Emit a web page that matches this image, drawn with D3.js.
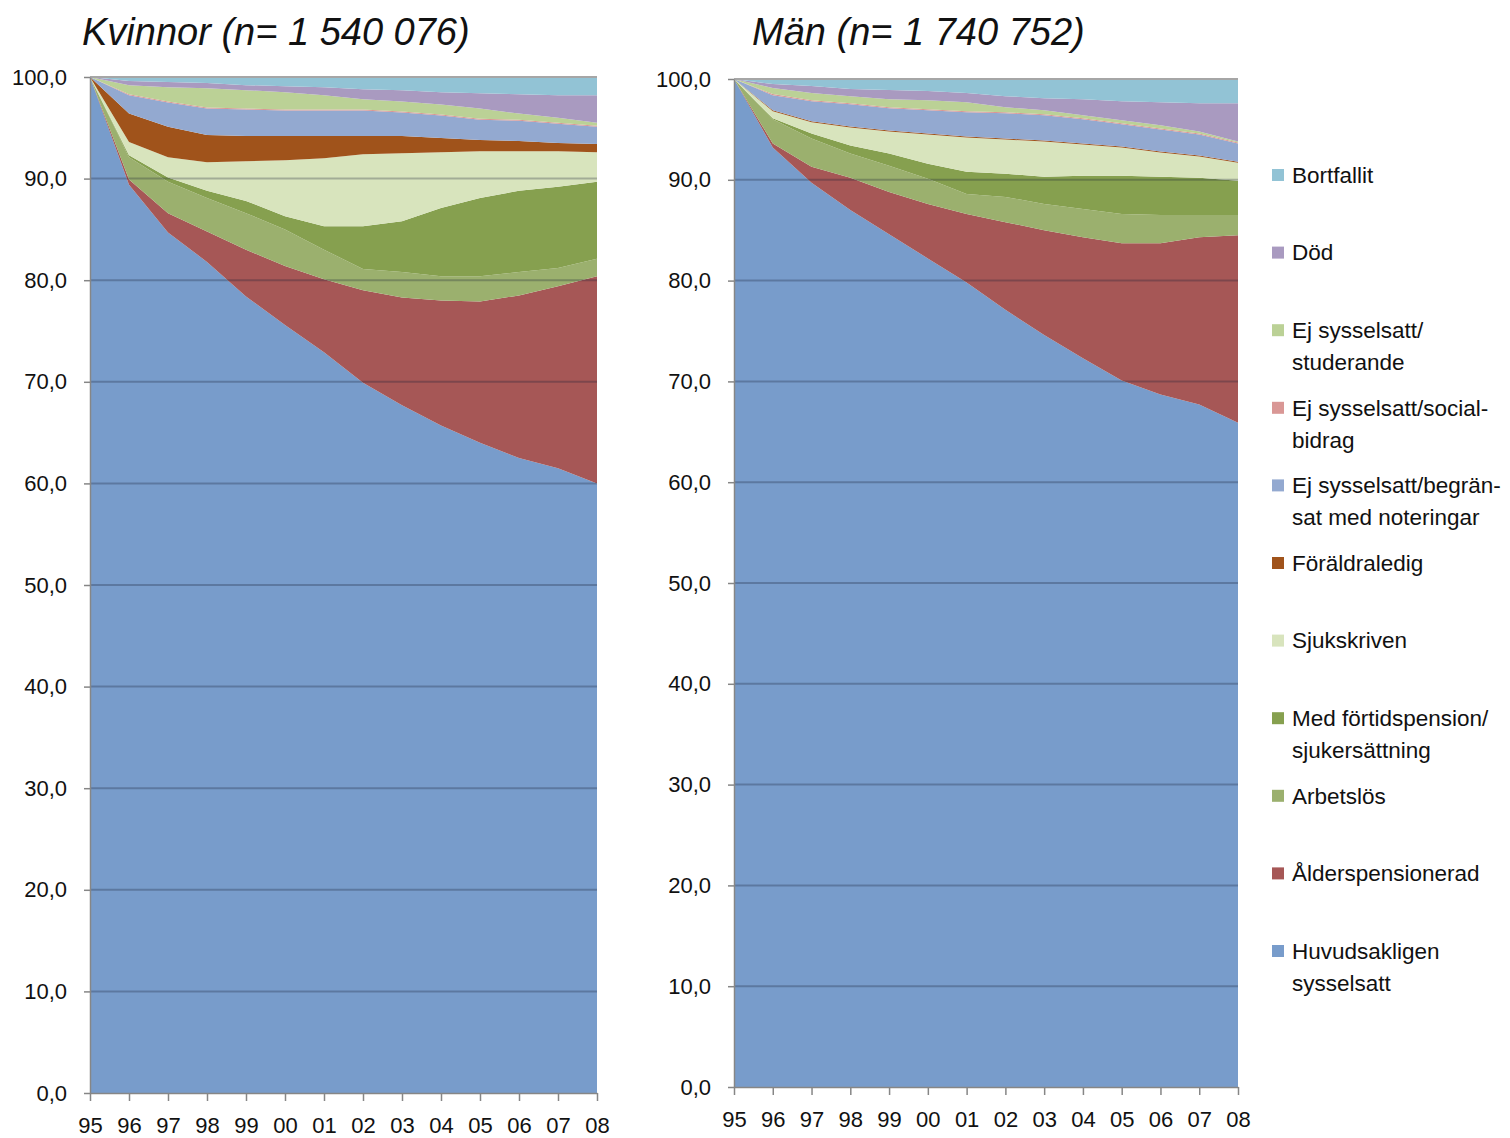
<!DOCTYPE html>
<html>
<head>
<meta charset="utf-8">
<script src="https://cdn.jsdelivr.net/npm/d3@7"></script>
<style>
  body { margin: 0; background: #fff; }
  svg { display: block; }
  text { font-family: "Liberation Sans", Arial, sans-serif; fill: #111; }
</style>
</head>
<body>
<svg id="chart" width="1510" height="1138"></svg>
<script>
// Year labels (1995–2008) and value axis ticks
const years = ["95","96","97","98","99","00","01","02","03","04","05","06","07","08"];
const yTicks = [0, 10, 20, 30, 40, 50, 60, 70, 80, 90, 100];

// Categories, in stacking order from the bottom up
const categories = [
  "Huvudsakligen sysselsatt",
  "Ålderspensionerad",
  "Arbetslös",
  "Med förtidspension/sjukersättning",
  "Sjukskriven",
  "Föräldraledig",
  "Ej sysselsatt/begränsat med noteringar",
  "Ej sysselsatt/socialbidrag",
  "Ej sysselsatt/studerande",
  "Död",
  "Bortfallit"
];
const legendLines = [
  ["Huvudsakligen", "sysselsatt"],
  ["Ålderspensionerad"],
  ["Arbetslös"],
  ["Med förtidspension/", "sjukersättning"],
  ["Sjukskriven"],
  ["Föräldraledig"],
  ["Ej sysselsatt/begrän-", "sat med noteringar"],
  ["Ej sysselsatt/social-", "bidrag"],
  ["Ej sysselsatt/", "studerande"],
  ["Död"],
  ["Bortfallit"]
];
const colors = ["#789ccb", "#a65756", "#9bb06e", "#86a04f", "#d8e4bd", "#a0531b",
                "#93a9d0", "#d99795", "#bbd196", "#a99ac0", "#92c3d5"];

// Kvinnor (n = 1 540 076), percent per year
const kvHuvud   = [100, 89.4, 84.7, 81.8, 78.4, 75.6, 72.9, 69.9, 67.7, 65.7, 64.0, 62.5, 61.5, 60.0];
const kvAlder   = [0, 0.5, 1.9, 3.0, 4.6, 5.8, 7.2, 9.1, 10.6, 12.3, 13.9, 16.0, 17.9, 20.4];
const kvArbets  = [0, 2.2, 3.1, 3.3, 3.6, 3.6, 2.9, 2.1, 2.5, 2.4, 2.5, 2.3, 1.8, 1.7];
const kvFortid  = [0, 0.2, 0.4, 0.7, 1.2, 1.3, 2.3, 4.2, 5.0, 6.7, 7.7, 8.0, 8.0, 7.6];
const kvSjuk    = [0, 1.3, 2.0, 2.8, 3.9, 5.5, 6.7, 7.1, 6.7, 5.5, 4.6, 3.9, 3.5, 2.9];
const kvForald  = [0, 2.8, 3.0, 2.7, 2.5, 2.4, 2.2, 1.8, 1.7, 1.4, 1.1, 1.0, 0.8, 0.8];
const kvBegr    = [0, 1.8, 2.4, 2.6, 2.6, 2.5, 2.5, 2.5, 2.3, 2.2, 2.0, 2.0, 1.9, 1.7];
const kvSocial  = [0, 0.1, 0.1, 0.1, 0.1, 0.1, 0.1, 0.1, 0.1, 0.1, 0.1, 0.1, 0.1, 0.1];
const kvStud    = [0, 0.9, 1.4, 1.9, 1.8, 1.7, 1.4, 1.0, 1.0, 1.0, 1.0, 0.6, 0.5, 0.3];
const kvDod     = [0, 0.4, 0.5, 0.5, 0.5, 0.6, 0.8, 1.0, 1.1, 1.2, 1.5, 1.9, 2.2, 2.7];
const kvBortf   = [0, 0.4, 0.5, 0.6, 0.8, 0.9, 1.0, 1.2, 1.3, 1.5, 1.6, 1.7, 1.8, 1.8];

// Män (n = 1 740 752), percent per year
const maHuvud   = [100, 93.2, 89.7, 87.0, 84.6, 82.2, 79.8, 77.1, 74.6, 72.3, 70.1, 68.7, 67.7, 65.9];
const maAlder   = [0, 0.4, 1.6, 3.2, 4.2, 5.4, 6.8, 8.7, 10.4, 12.0, 13.6, 15.0, 16.6, 18.6];
const maArbets  = [0, 2.4, 2.8, 2.4, 2.6, 2.5, 2.0, 2.5, 2.6, 2.8, 2.9, 2.8, 2.2, 2.0];
const maFortid  = [0, 0.1, 0.5, 0.8, 1.2, 1.5, 2.2, 2.3, 2.7, 3.3, 3.8, 3.8, 3.7, 3.4];
const maSjuk    = [0, 0.7, 1.1, 1.8, 2.2, 2.9, 3.4, 3.4, 3.5, 3.1, 2.8, 2.4, 2.1, 1.8];
const maForald  = [0, 0.1, 0.1, 0.1, 0.1, 0.1, 0.1, 0.1, 0.1, 0.1, 0.1, 0.1, 0.1, 0.1];
const maBegr    = [0, 1.5, 2.0, 2.2, 2.2, 2.3, 2.4, 2.5, 2.5, 2.4, 2.2, 2.2, 2.1, 1.8];
const maSocial  = [0, 0.1, 0.1, 0.1, 0.1, 0.1, 0.1, 0.1, 0.1, 0.1, 0.1, 0.1, 0.1, 0.1];
const maStud    = [0, 0.6, 0.7, 0.7, 0.8, 0.9, 0.9, 0.5, 0.4, 0.3, 0.3, 0.3, 0.2, 0.1];
const maDod     = [0, 0.4, 0.7, 0.7, 0.9, 0.9, 0.9, 1.1, 1.2, 1.6, 1.9, 2.3, 2.8, 3.8];
const maBortf   = [0, 0.5, 0.7, 1.0, 1.1, 1.2, 1.4, 1.7, 1.9, 2.0, 2.2, 2.3, 2.4, 2.4];

const panels = [
  {
    title: "Kvinnor (n= 1 540 076)", titleX: 82,
    series: [kvHuvud, kvAlder, kvArbets, kvFortid, kvSjuk, kvForald, kvBegr, kvSocial, kvStud, kvDod, kvBortf],
    left: 90, right: 597, top: 77, bottom: 1093
  },
  {
    title: "Män (n= 1 740 752)", titleX: 752,
    series: [maHuvud, maAlder, maArbets, maFortid, maSjuk, maForald, maBegr, maSocial, maStud, maDod, maBortf],
    left: 734, right: 1238, top: 79, bottom: 1087
  }
];

const svg = d3.select("#chart");
const keys = categories.map((_, i) => "s" + i);
const fmt = d => d3.format(".1f")(d).replace(".", ",");

panels.forEach(p => {
  const rows = years.map((yr, i) => {
    const r = { i };
    p.series.forEach((arr, k) => { r["s" + k] = arr[i]; });
    return r;
  });
  const stacked = d3.stack().keys(keys)(rows);

  const x = d3.scaleLinear().domain([0, years.length - 1]).range([p.left, p.right]);
  const y = d3.scaleLinear().domain([0, 100]).range([p.bottom, p.top]);

  const area = d3.area()
    .x(d => x(d.data.i))
    .y0(d => y(d[0]))
    .y1(d => y(Math.min(100, d[1])));

  const g = svg.append("g");

  g.selectAll("path.layer")
    .data(stacked)
    .join("path")
    .attr("class", "layer")
    .attr("fill", (d, i) => colors[i])
    .attr("d", area);

  // Horizontal gridlines, drawn over the areas
  g.selectAll("line.grid")
    .data(yTicks.filter(v => v > 0 && v < 100))
    .join("line")
    .attr("class", "grid")
    .attr("x1", p.left).attr("x2", p.right)
    .attr("y1", d => y(d)).attr("y2", d => y(d))
    .attr("stroke", "rgba(20,30,50,0.28)")
    .attr("stroke-width", 2);

  g.append("line")
    .attr("x1", p.left).attr("x2", p.right)
    .attr("y1", y(100)).attr("y2", y(100))
    .attr("stroke", "#a6a6a6").attr("stroke-width", 2);

  // Value axis
  const yAxis = g.append("g")
    .attr("transform", `translate(${p.left},0)`)
    .call(d3.axisLeft(y).tickValues(yTicks).tickFormat(fmt).tickSize(6).tickPadding(17).tickSizeOuter(0));
  yAxis.select(".domain").attr("stroke", "#868686").attr("stroke-width", 1.5);
  yAxis.selectAll(".tick line").attr("stroke", "#868686").attr("stroke-width", 1.5);
  yAxis.selectAll(".tick text").attr("font-size", 22).attr("fill", "#111")
    .attr("font-family", "'Liberation Sans', Arial, sans-serif");

  // Year axis
  const xAxis = g.append("g")
    .attr("transform", `translate(0,${p.bottom})`)
    .call(d3.axisBottom(x).tickValues(d3.range(years.length)).tickFormat(i => years[i]).tickSize(8).tickPadding(16).tickSizeOuter(0));
  xAxis.select(".domain").attr("stroke", "#868686").attr("stroke-width", 1.5);
  xAxis.selectAll(".tick line").attr("stroke", "#868686").attr("stroke-width", 1.5);
  xAxis.selectAll(".tick text").attr("font-size", 22).attr("fill", "#111")
    .attr("font-family", "'Liberation Sans', Arial, sans-serif");

  // Panel title
  svg.append("text")
    .attr("x", p.titleX).attr("y", 45)
    .attr("font-family", "Lato, 'Open Sans', sans-serif")
    .attr("font-style", "italic")
    .attr("font-size", 38)
    .attr("fill", "#111")
    .text(p.title);
});

// Legend, top entry is the top layer of the stack
const legendOrder = d3.range(categories.length).reverse();
const legend = svg.append("g");
legendOrder.forEach((ci, row) => {
  const cy = 175 + row * 77.6;
  legend.append("rect")
    .attr("x", 1272).attr("y", cy - 6)
    .attr("width", 12).attr("height", 12)
    .attr("fill", colors[ci]);
  legendLines[ci].forEach((line, li) => {
    legend.append("text")
      .attr("x", 1292).attr("y", cy + li * 32)
      .attr("dy", "0.35em")
      .attr("font-size", 22.5)
      .text(line);
  });
});
</script>
</body>
</html>
